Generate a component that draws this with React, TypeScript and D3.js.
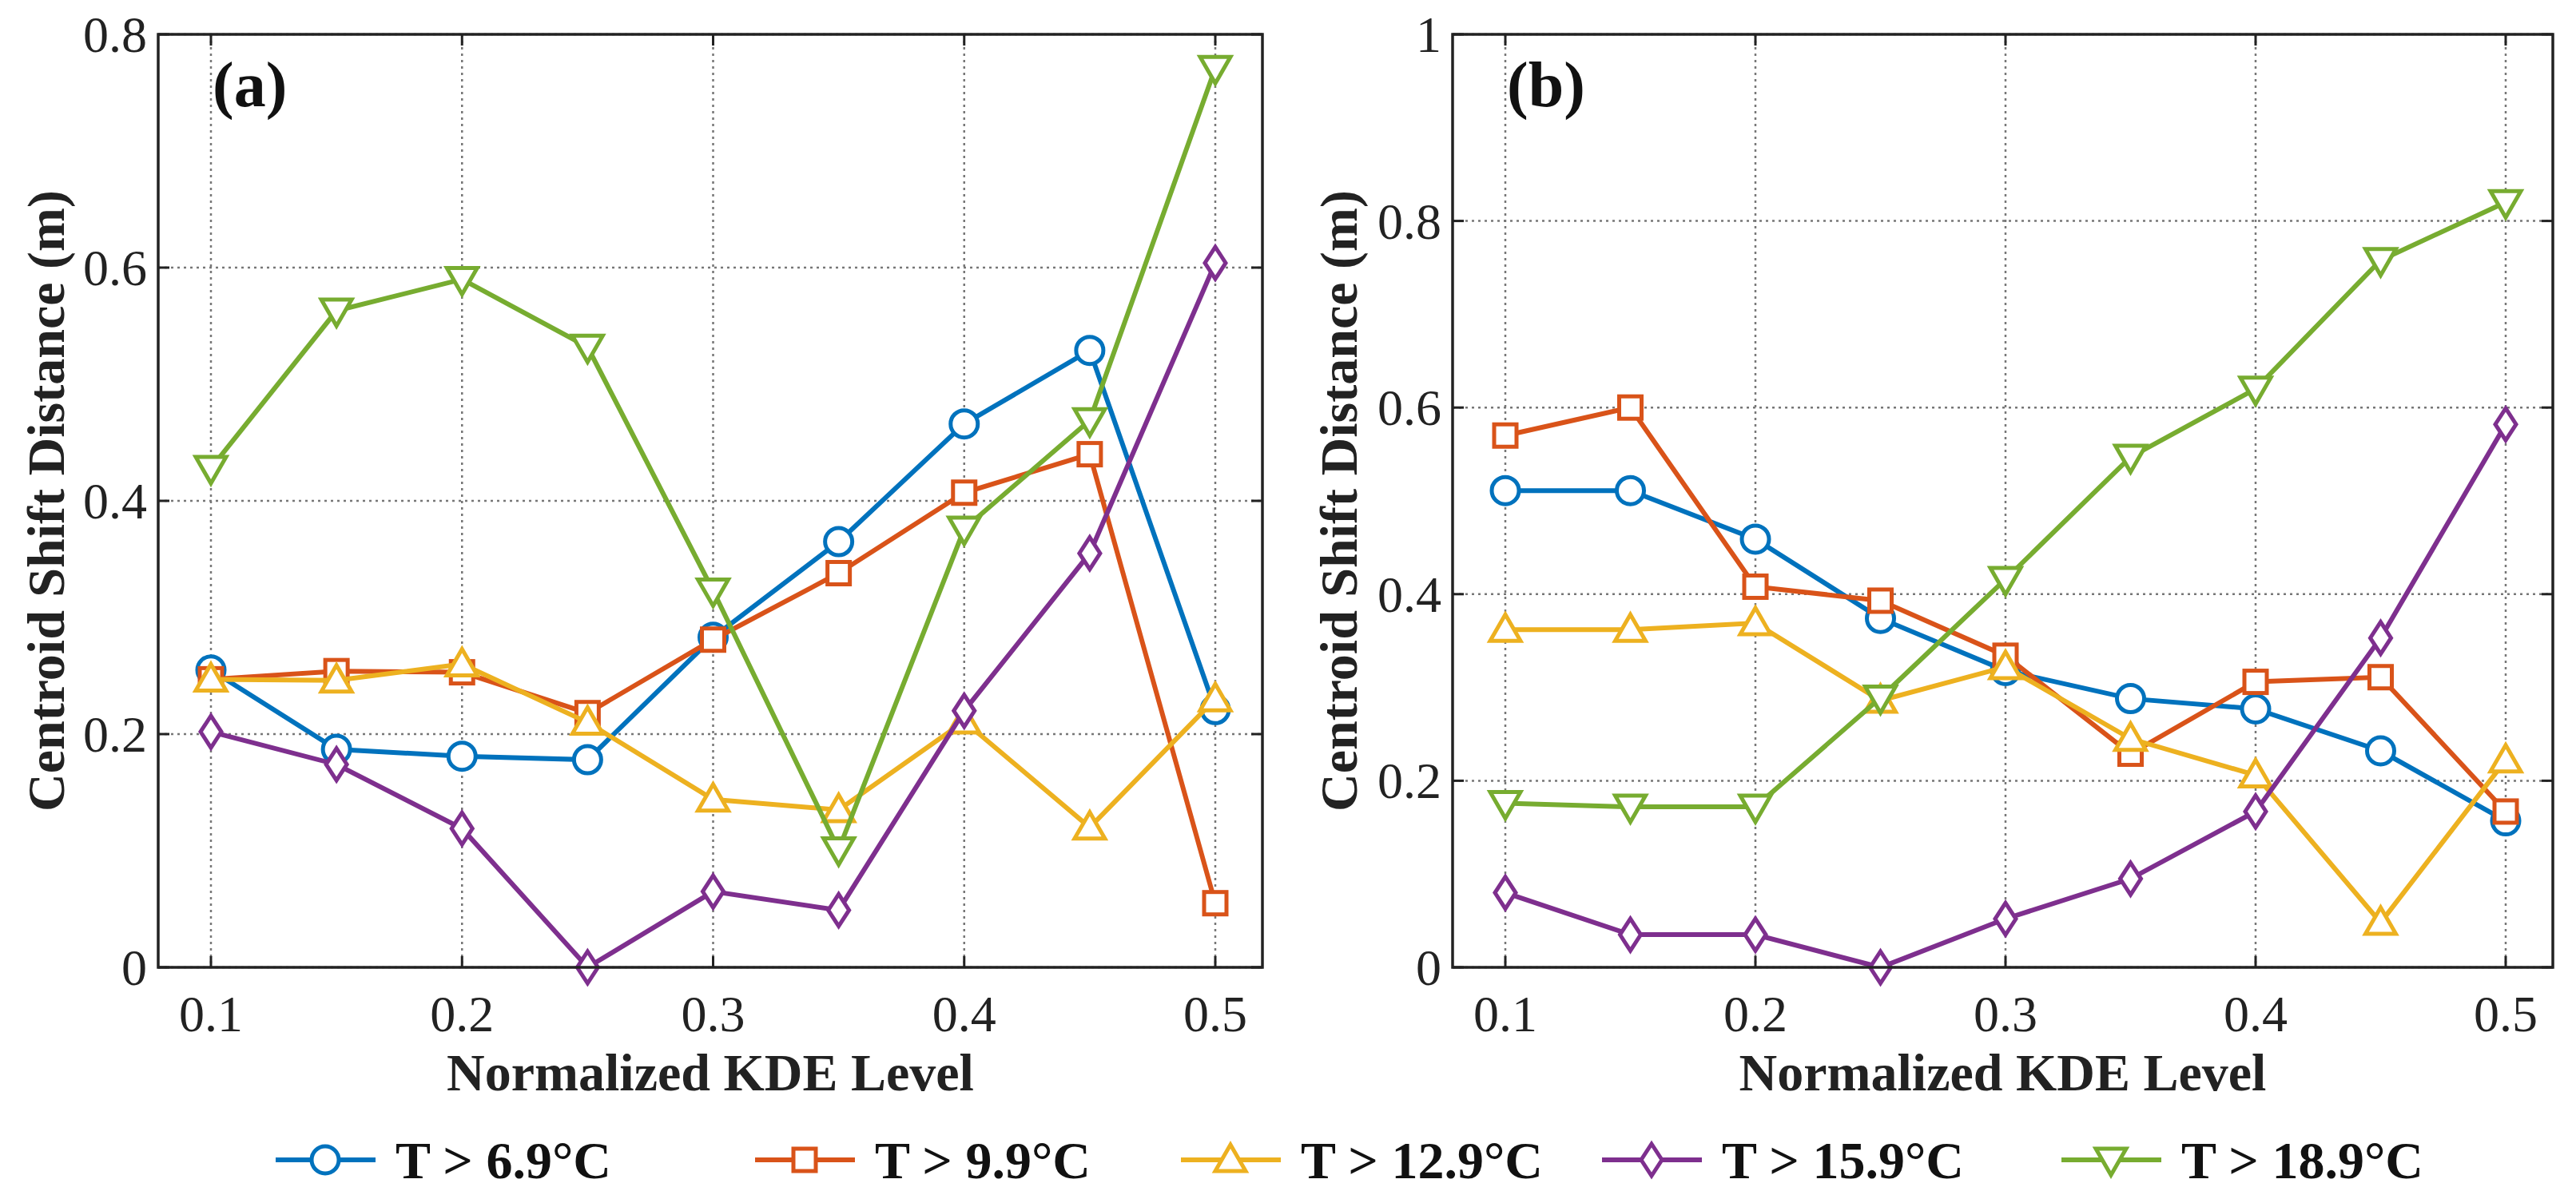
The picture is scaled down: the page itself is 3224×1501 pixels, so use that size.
import * as d3 from 'd3';

const levels = [0.1, 0.15, 0.2, 0.25, 0.3, 0.35, 0.4, 0.45, 0.5];
const seriesNames = ['T > 6.9°C', 'T > 9.9°C', 'T > 12.9°C', 'T > 15.9°C', 'T > 18.9°C'];
const colors = ['#0072BD', '#D95319', '#EDB120', '#7E2F8E', '#77AC30'];
const markers = ['circle', 'square', 'triangle', 'diamond', 'triangleDown'];

const panelA = [
  [0.255, 0.187, 0.181, 0.178, 0.283, 0.365, 0.466, 0.529, 0.221],
  [0.247, 0.254, 0.253, 0.218, 0.281, 0.338, 0.407, 0.44, 0.055],
  [0.247, 0.246, 0.26, 0.21, 0.144, 0.135, 0.211, 0.12, 0.23],
  [0.202, 0.174, 0.119, 0, 0.065, 0.049, 0.22, 0.355, 0.604],
  [0.428, 0.563, 0.59, 0.532, 0.323, 0.101, 0.376, 0.469, 0.771],
];
const panelB = [
  [0.511, 0.511, 0.459, 0.374, 0.318, 0.288, 0.277, 0.232, 0.157],
  [0.57, 0.6, 0.408, 0.393, 0.334, 0.229, 0.306, 0.311, 0.167],
  [0.362, 0.362, 0.369, 0.286, 0.322, 0.245, 0.206, 0.048, 0.222],
  [0.08, 0.035, 0.035, 0, 0.052, 0.095, 0.167, 0.353, 0.582],
  [0.176, 0.172, 0.172, 0.289, 0.416, 0.547, 0.62, 0.758, 0.82],
];
const xTicks = [0.1, 0.2, 0.3, 0.4, 0.5];
const yTicksA = [0, 0.2, 0.4, 0.6, 0.8];
const yTicksB = [0, 0.2, 0.4, 0.6, 0.8, 1];

const serif = '"Liberation Serif", "Times New Roman", serif';

function Marker({ kind, x, y, color }: { kind: string; x: number; y: number; color: string }) {
  const common = { fill: 'white', stroke: color, strokeWidth: 5 };
  if (kind === 'circle') return <circle cx={x} cy={y} r={17} {...common} />;
  if (kind === 'square') return <rect x={x - 14} y={y - 14} width={28} height={28} {...common} />;
  if (kind === 'diamond')
    return <polygon points={`${x},${y - 20} ${x + 13},${y} ${x},${y + 20} ${x - 13},${y}`} {...common} />;
  if (kind === 'triangle')
    return <polygon points={`${x},${y - 19} ${x + 19},${y + 14} ${x - 19},${y + 14}`} {...common} />;
  return <polygon points={`${x},${y + 19} ${x + 19},${y - 14} ${x - 19},${y - 14}`} {...common} />;
}

function Panel({ left, right, data, yMax, yTicks, tag, labelX }: any) {
  const top = 43, bottom = 1211;
  const x = d3.scaleLinear().domain([0.1, 0.5]).range([left + 66, right - 59]);
  const y = d3.scaleLinear().domain([0, yMax]).range([bottom, top]);
  const line = d3.line<number>().x((_, i) => x(levels[i])).y((d) => y(d));
  return (
    <g>
      {xTicks.map((t) => (
        <line key={'gx' + t} x1={x(t)} x2={x(t)} y1={top} y2={bottom} stroke="#777" strokeWidth={2.5} strokeDasharray="3,5" />
      ))}
      {yTicks.map((t: number) => (
        <line key={'gy' + t} x1={left} x2={right} y1={y(t)} y2={y(t)} stroke="#777" strokeWidth={2.5} strokeDasharray="3,5" />
      ))}
      {xTicks.map((t) => (
        <g key={'tx' + t}>
          <line x1={x(t)} x2={x(t)} y1={bottom} y2={bottom - 14} stroke="#222" strokeWidth={3} />
          <line x1={x(t)} x2={x(t)} y1={top} y2={top + 14} stroke="#222" strokeWidth={3} />
          <text x={x(t)} y={bottom + 80} textAnchor="middle" fontSize={64} fontFamily={serif} fill="#222">{t.toFixed(1)}</text>
        </g>
      ))}
      {yTicks.map((t: number) => (
        <g key={'ty' + t}>
          <line x1={left} x2={left + 14} y1={y(t)} y2={y(t)} stroke="#222" strokeWidth={3} />
          <line x1={right} x2={right - 14} y1={y(t)} y2={y(t)} stroke="#222" strokeWidth={3} />
          <text x={left - 14} y={y(t) + 22} textAnchor="end" fontSize={64} fontFamily={serif} fill="#222">{String(t)}</text>
        </g>
      ))}
      {data.map((s: number[], k: number) => (
        <g key={k}>
          <path d={line(s) || ''} fill="none" stroke={colors[k]} strokeWidth={6} />
          {s.map((v, i) => (
            <Marker key={i} kind={markers[k]} x={x(levels[i])} y={y(v)} color={colors[k]} />
          ))}
        </g>
      ))}
      <rect x={left} y={top} width={right - left} height={bottom - top} fill="none" stroke="#222" strokeWidth={3.5} />
      <text x={left + 68} y={top + 90} fontSize={80} fontWeight="bold" fontFamily={serif} fill="#111">{tag}</text>
      <text x={(left + right) / 2} y={1365} textAnchor="middle" fontSize={66} fontWeight="bold" fontFamily={serif} fill="#222">Normalized KDE Level</text>
      <text transform={`translate(${labelX},${(top + bottom) / 2}) rotate(-90)`} textAnchor="middle" fontSize={66} fontWeight="bold" fontFamily={serif} fill="#222">Centroid Shift Distance (m)</text>
    </g>
  );
}

const legendLineX = [345, 945, 1478, 2005, 2580];

export default function App() {
  return (
    <svg width={3224} height={1501} style={{ position: 'absolute', left: 0, top: 0, background: 'white' }}>
      <Panel left={198} right={1580} data={panelA} yMax={0.8} yTicks={yTicksA} tag="(a)" labelX={80} />
      <Panel left={1818} right={3195} data={panelB} yMax={1} yTicks={yTicksB} tag="(b)" labelX={1698} />
      {seriesNames.map((n, k) => {
        const lx = legendLineX[k];
        const ly = 1452;
        return (
          <g key={n}>
            <line x1={lx} x2={lx + 125} y1={ly} y2={ly} stroke={colors[k]} strokeWidth={6} />
            <Marker kind={markers[k]} x={lx + 62} y={ly} color={colors[k]} />
            <text x={lx + 150} y={ly + 23} fontSize={66} fontWeight="bold" fontFamily={serif} fill="#111">{n}</text>
          </g>
        );
      })}
    </svg>
  );
}
